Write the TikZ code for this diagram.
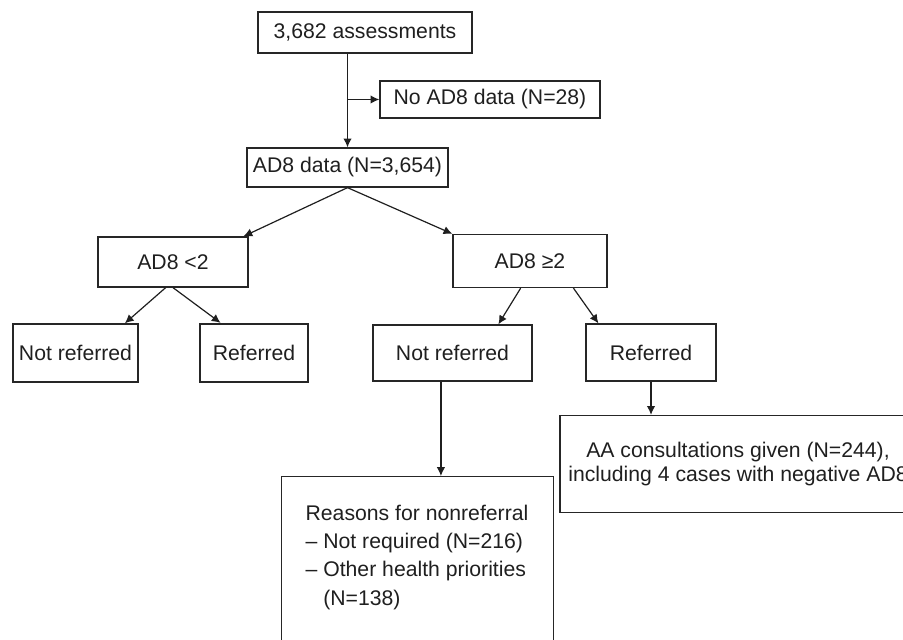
\documentclass[tikz,border=0pt]{standalone}
\usepackage{fontspec}
\setmainfont{Liberation Sans}
\usetikzlibrary{arrows.meta}

\begin{document}
\begin{tikzpicture}[x=0.5pt,y=-0.5pt,
  box/.style={draw=black!85,line width=0.65pt,inner sep=0pt,text=black!88,font=\fontsize{10.6}{12}\selectfont},
  arr/.style={draw=black!88,line width=0.6pt,-{Latex[length=4.4pt,width=4.2pt]}}]
\useasboundingbox (0,0) rectangle (903,640);
\node[box,minimum width=107pt,minimum height=20.5pt] (total) at (365,32.5) {3,682 assessments};
\node[box,minimum width=110pt,minimum height=18.5pt] (nodata) at (490,99.5) {No AD8 data (N=28)};
\node[box,minimum width=100.5pt,minimum height=19.5pt] (data) at (347.5,167.5) {AD8 data (N=3,654)};
\node[box,minimum width=75pt,minimum height=25pt] (low) at (173,262) {AD8 <2};
\node[box,minimum width=77pt,minimum height=26.5pt] (high) at (530,261) {AD8 ≥2};
\node[box,minimum width=62.5pt,minimum height=29pt] (lownot) at (75.5,353) {Not referred};
\node[box,line width=1.1pt,minimum width=54pt,minimum height=29pt] (lowref) at (254,353) {Referred};
\node[box,minimum width=79.5pt,minimum height=28pt] (highnot) at (452.5,353) {Not referred};
\node[box,minimum width=65pt,minimum height=28.5pt] (highref) at (651,352.5) {Referred};
\node[box,align=center,minimum width=178pt,minimum height=48.5pt] (consult) at (738,464)
  {AA consultations given (N=244),\\including 4 cases with negative AD8};
\node[box,anchor=north west,inner xsep=12pt,inner ysep=14pt] (reasons) at (281,476)
  {\parbox[t][70pt][t]{112pt}{\baselineskip=14.2pt Reasons for nonreferral\\– Not required (N=216)\\– Other health priorities\\\phantom{– }(N=138)}};

\draw[arr] (total.south -| data.north) -- (data.north);
\draw[arr] (data.north |- nodata.west) -- (nodata.west);
\draw[arr] (data.south) -- (low.20);
\draw[arr] (data.south) -- (high.north west);
\draw[arr] (low.254) -- (lownot.31);
\draw[arr] (low.270) -- (lowref.138);
\draw[arr] (high.251) -- (highnot.32);
\draw[arr] (high.328) -- (highref.151);
\draw[arr] (highnot.248) -- (highnot.248 |- reasons.north);
\draw[arr] (highref.south) -- (consult.north -| highref.south);
\end{tikzpicture}
\end{document}
